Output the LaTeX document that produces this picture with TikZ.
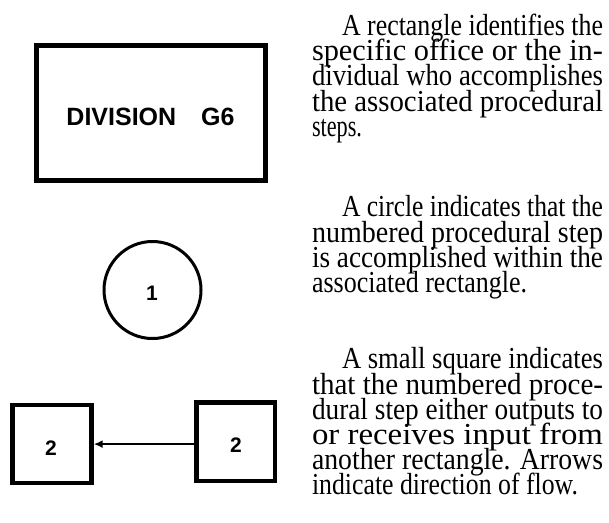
\documentclass[tikz,border=0pt]{standalone}
\usepackage{fontspec}
\usepackage{graphicx}
\setmainfont{Liberation Serif}
\newfontfamily\labelfont{Liberation Sans}
\usetikzlibrary{arrows.meta}
\newcommand\fitline[2]{\resizebox{#1}{\height}{#2}}
\tikzset{
  bodyline/.style={anchor=base west,inner sep=0pt,outer sep=0pt,font=\fontsize{30.5}{30.5}\selectfont},
  digit/.style={anchor=base,inner sep=0pt,outer sep=0pt,font=\labelfont\bfseries\fontsize{21}{21}\selectfont},
  heavybox/.style={draw,line width=4.5pt,inner sep=0pt,outer sep=0pt},
  flowarrow/.style={line width=2.2pt,-{Latex[length=9pt,width=8pt]},shorten >=2pt}
}
\begin{document}
\begin{tikzpicture}[x=1pt,y=-1pt]
\useasboundingbox (0,0) rectangle (609,522);
% symbols
\node[heavybox,minimum width=229pt,minimum height=135pt] (div) at (151,113) {};
\node[anchor=base,inner sep=0pt,font=\labelfont\bfseries\fontsize{25}{25}\selectfont] (divtext) at (150.5,125) {DIVISION\hspace{25pt}G6};
\node[circle,draw,line width=3pt,minimum size=97pt,inner sep=0pt] (step1) at (152.5,290) {};
\node[digit] (one) at (152,300) {1};
\node[heavybox,minimum width=79.2pt,minimum height=78.2pt] (sqL) at (52.1,444.1) {};
\node[heavybox,minimum width=78.5pt,minimum height=78.3pt] (sqR) at (235.75,441.65) {};
\node[digit] (twoL) at (51,455) {2};
\node[digit] (twoR) at (236,452.7) {2};
\draw[flowarrow] (sqR.west |- sqL.east) -- (sqL.east);
% text
\node[bodyline] (a1) at (342,35) {\fitline{261pt}{A rectangle identifies the}};
\node[bodyline] (a2) at (312,60.7) {\fitline{291pt}{specific office or the in-}};
\node[bodyline] (a3) at (312,85.7) {\fitline{291pt}{dividual who accomplishes}};
\node[bodyline] (a4) at (312,111) {\fitline{291pt}{the associated procedural}};
\node[bodyline] (a5) at (312,136) {\fitline{50pt}{steps.}};
\node[bodyline] (b1) at (342,216.7) {\fitline{261pt}{A circle indicates that the}};
\node[bodyline] (b2) at (312,242) {\fitline{291pt}{numbered procedural step}};
\node[bodyline] (b3) at (312,267) {\fitline{291pt}{is accomplished within the}};
\node[bodyline] (b4) at (312,292) {\fitline{215pt}{associated rectangle.}};
\node[bodyline] (c1) at (342,368.7) {\fitline{261pt}{A small square indicates}};
\node[bodyline] (c2) at (312,394.7) {\fitline{291pt}{that the numbered proce-}};
\node[bodyline] (c3) at (312,419.7) {\fitline{291pt}{dural step either outputs to}};
\node[bodyline] (c4) at (312,444.7) {\fitline{291pt}{or receives input from}};
\node[bodyline] (c5) at (312,469.7) {\fitline{291pt}{another rectangle. Arrows}};
\node[bodyline] (c6) at (312,494.7) {\fitline{266pt}{indicate direction of flow.}};
\end{tikzpicture}
\end{document}
